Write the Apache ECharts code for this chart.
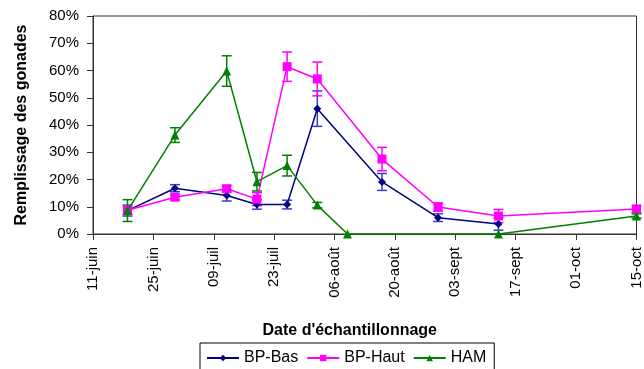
<!DOCTYPE html>
<html><head><meta charset="utf-8">
<script src="https://cdn.jsdelivr.net/npm/echarts@6/dist/echarts.min.js"></script>
<style>html,body{margin:0;padding:0;background:#fff}#c{width:644px;height:369px}</style>
</head><body><div id="c"></div>
<script>
// day offsets from 11 June
const sampleDays = [8, 19, 31, 38, 45, 52, 59, 67, 80, 94, 126];
const tickLabels = ['11-juin','25-juin','09-juil','23-juil','06-août','20-août','03-sept','17-sept','01-oct','15-oct'];
const bpBas     = [8.6, 16.8, 14.1, 10.8, 10.8, 46.0, null, 19.1, 6.0, 3.7, null];
const bpBasErr  = [2.0, 1.3, 2.0, 1.7, 1.6, 6.5, null, 3.1, 1.4, 2.3, null];
const bpHaut    = [8.7, 13.5, 16.6, 12.8, 61.4, 56.9, null, 27.5, 9.9, 6.6, 9.2];
const bpHautErr = [1.5, 1.0, 1.2, 2.4, 5.4, 6.2, null, 4.3, 1.5, 2.4, 1.2];
const ham       = [8.6, 36.3, 59.8, 19.2, 25.1, 10.6, 0, null, null, 0, 6.6];
const hamErr    = [4.0, 2.7, 5.6, 3.4, 3.8, 1.0, 0, null, null, 0, 0.8];

const FONT = '"Liberation Sans", Arial, sans-serif';
function pts(vals){ return sampleDays.map((d,i)=>[d, vals[i]]).filter(p=>p[1]!==null); }
function errPts(vals, errs){ return sampleDays.map((d,i)=>[d, vals[i], errs[i]]).filter(p=>p[1]!==null && p[2]); }
function errSeries(vals, errs, color){
  return {
    type:'custom', data: errPts(vals, errs), silent:true, z:1,
    renderItem:function(params, api){
      const x=api.value(0), y=api.value(1), e=api.value(2);
      const hi=api.coord([x,y+e]), lo=api.coord([x,y-e]);
      const w=5;
      const st={stroke:color, lineWidth:1.5};
      return {type:'group', children:[
        {type:'line', shape:{x1:hi[0],y1:hi[1],x2:lo[0],y2:lo[1]}, style:st},
        {type:'line', shape:{x1:hi[0]-w,y1:hi[1],x2:hi[0]+w,y2:hi[1]}, style:st},
        {type:'line', shape:{x1:lo[0]-w,y1:lo[1],x2:lo[0]+w,y2:lo[1]}, style:st}
      ]};
    }
  };
}
const chart = echarts.init(document.getElementById('c'), null, {renderer:'canvas'});
chart.setOption({
  animation:false,
  textStyle:{fontFamily:FONT},
  grid:{left:93, right:7, top:16, bottom:135, show:true, borderColor:'#333', borderWidth:1},
  xAxis:{type:'value', min:0, max:126, interval:14,
    axisLine:{lineStyle:{color:'#333'}}, splitLine:{show:false},
    axisTick:{length:6, lineStyle:{color:'#333'}},
    axisLabel:{rotate:90, margin:13, color:'#000', fontSize:15, fontFamily:FONT,
      formatter:v=>tickLabels[Math.round(v/14)]},
    name:"Date d'échantillonnage", nameLocation:'middle', nameGap:89,
    nameTextStyle:{fontWeight:'bold', fontSize:16, color:'#000', fontFamily:FONT, padding:[0,30,0,0]}},
  yAxis:{type:'value', min:0, max:80, interval:10,
    axisLine:{show:true, lineStyle:{color:'#333'}}, splitLine:{show:false},
    axisTick:{show:true, length:6, lineStyle:{color:'#333'}},
    axisLabel:{margin:14, color:'#000', fontSize:15, fontFamily:FONT, formatter:'{value}%'},
    name:'Remplissage des gonades', nameLocation:'middle', nameGap:63,
    nameTextStyle:{fontWeight:'bold', fontSize:16, color:'#000', fontFamily:FONT}},
  legend:{top:343, left:200, borderColor:'#000', borderWidth:1, padding:[7,8,4,6],
    itemGap:8, itemWidth:32, itemHeight:8,
    textStyle:{fontSize:16, color:'#000', fontFamily:FONT},
    data:['BP-Bas','BP-Haut','HAM']},
  series:[
    errSeries(bpBas, bpBasErr, '#3c3ccc'),
    errSeries(bpHaut, bpHautErr, '#ff00ff'),
    errSeries(ham, hamErr, '#008000'),
    {name:'BP-Bas', type:'line', data:pts(bpBas), symbol:'diamond', symbolSize:8, z:3,
      itemStyle:{color:'#000080'}, lineStyle:{color:'#000080', width:1.5}},
    {name:'BP-Haut', type:'line', data:pts(bpHaut), symbol:'rect', symbolSize:9, z:4,
      itemStyle:{color:'#ff00ff'}, lineStyle:{color:'#ff00ff', width:1.5}},
    {name:'HAM', type:'line', data:pts(ham), symbol:'triangle', symbolSize:9, z:5,
      itemStyle:{color:'#008000'}, lineStyle:{color:'#008000', width:1.5}}
  ]
});
</script></body></html>
